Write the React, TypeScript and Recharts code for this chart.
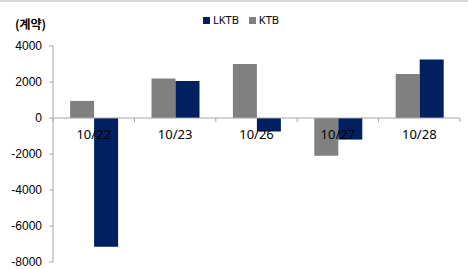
import React from "react";
import { BarChart, Bar, XAxis, YAxis, ReferenceLine } from "recharts";

const categories = ["10/22", "10/23", "10/26", "10/27", "10/28"];
const ktbValues = [950, 2200, 3000, -2100, 2450];
const lktbValues = [-7150, 2050, -750, -1200, 3250];
const yTicks = [4000, 2000, 0, -2000, -4000, -6000, -8000];
const unitLabel = "(계약)";
const seriesNames = { lktb: "LKTB", ktb: "KTB" };

const data = categories.map((c, i) => ({ name: c, ktb: ktbValues[i], lktb: lktbValues[i] }));

const W = 468;
const H = 269;
const M = { top: 46, right: 8, bottom: 6, left: 0 };
const X_AXIS_H = 1;
const Y_AXIS_W = 53;
const plotH = H - M.top - M.bottom - X_AXIS_H;
const zeroY = M.top + plotH * (4000 / 12000);
const bandW = (W - M.left - M.right - Y_AXIS_W) / categories.length;
const FONT = "'Liberation Sans', Arial, sans-serif";
const XFONT = "'Noto Sans', sans-serif";

const XTick = (props: any) => {
  const { x, index, payload } = props;
  const isLast = index === categories.length - 1;
  return (
    <g>
      <line x1={x - bandW / 2} x2={x - bandW / 2} y1={zeroY} y2={zeroY + 4} stroke="#a6a6a6" />
      {isLast && <line x1={x + bandW / 2} x2={x + bandW / 2} y1={zeroY} y2={zeroY + 4} stroke="#a6a6a6" />}
      <text x={x} y={zeroY + 21} textAnchor="middle" fontSize={13} fontFamily={XFONT} fill="#000">
        {payload.value}
      </text>
    </g>
  );
};

export default function App() {
  return (
    <div style={{ position: "absolute", left: 0, top: 0, width: W, height: H, background: "#fff" }}>
      <div style={{ position: "absolute", left: 0, top: 0, width: W, height: 2, background: "#d9d9d9" }} />
      <div
        style={{
          position: "absolute",
          left: 15,
          top: 15,
          fontFamily: "'Noto Sans CJK KR', sans-serif",
          fontWeight: 700,
          fontSize: 12,
          lineHeight: "17px",
          color: "#000",
        }}
      >
        {unitLabel}
      </div>
      <div
        style={{
          position: "absolute",
          left: 203,
          top: 12,
          height: 16,
          display: "flex",
          fontFamily: XFONT,
          fontSize: 11,
          lineHeight: "16px",
          color: "#000",
          zIndex: 2,
        }}
      >
        <div style={{ display: "flex", alignItems: "center", marginRight: 10 }}>
          <span style={{ display: "inline-block", width: 7, height: 7, background: "#002060", marginRight: 3 }} />
          {seriesNames.lktb}
        </div>
        <div style={{ display: "flex", alignItems: "center" }}>
          <span style={{ display: "inline-block", width: 7, height: 7, background: "#808080", marginRight: 3 }} />
          {seriesNames.ktb}
        </div>
      </div>
      <BarChart width={W} height={H} data={data} margin={M} barCategoryGap="21%" barGap={0}>
        <YAxis
          width={Y_AXIS_W}
          domain={[-8000, 4000]}
          ticks={yTicks}
          interval={0}
          tick={{ fontSize: 12, fontFamily: FONT, fill: "#000" }}
          tickSize={4}
          tickMargin={7}
          axisLine={{ stroke: "#a6a6a6" }}
          tickLine={{ stroke: "#a6a6a6" }}
        />
        <XAxis dataKey="name" height={X_AXIS_H} axisLine={false} tickLine={false} tick={false} />
        <ReferenceLine y={0} stroke="#a6a6a6" />
        <Bar dataKey="ktb" name={seriesNames.ktb} fill="#808080" isAnimationActive={false} />
        <Bar dataKey="lktb" name={seriesNames.lktb} fill="#002060" isAnimationActive={false} />
      </BarChart>
      <div style={{ position: "absolute", left: 0, top: 0, pointerEvents: "none" }}>
        <BarChart width={W} height={H} data={data} margin={M}>
          <YAxis width={Y_AXIS_W} domain={[-8000, 4000]} axisLine={false} tickLine={false} tick={false} />
          <XAxis
            dataKey="name"
            height={X_AXIS_H}
            axisLine={false}
            tickLine={false}
            tick={<XTick />}
            interval={0}
          />
        </BarChart>
      </div>
    </div>
  );
}
